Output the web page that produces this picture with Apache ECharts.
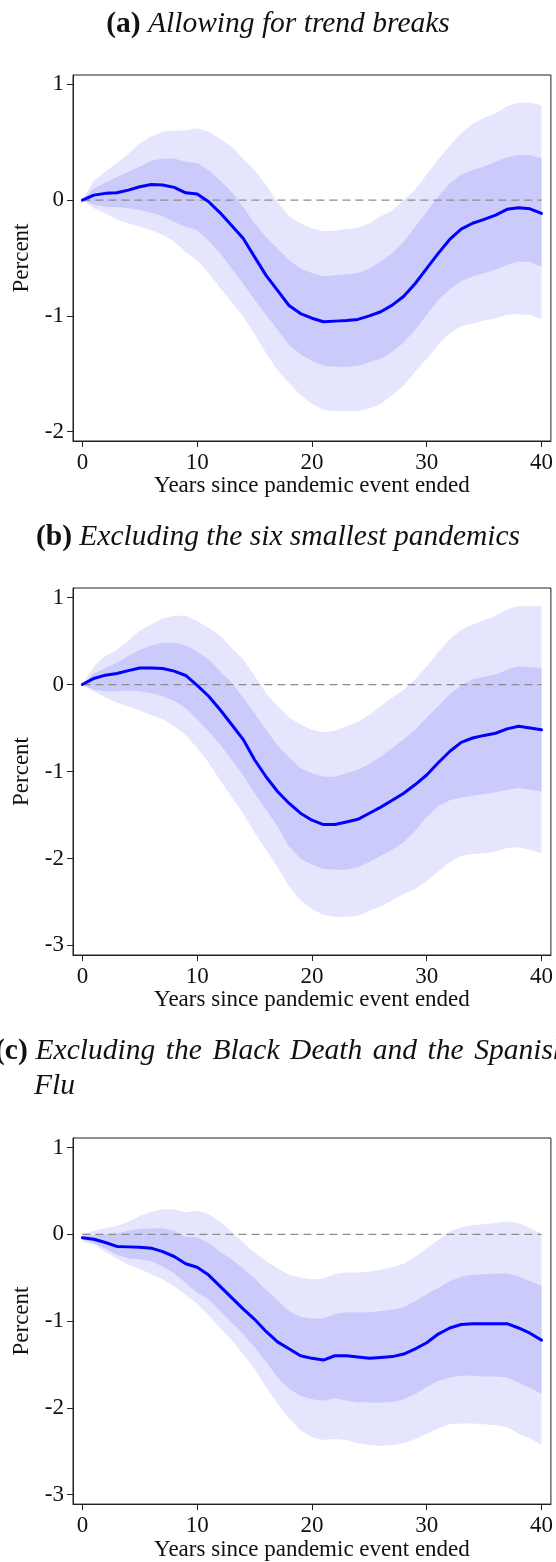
<!DOCTYPE html>
<html>
<head>
<meta charset="utf-8">
<script src="https://cdn.jsdelivr.net/npm/echarts@6/dist/echarts.min.js"></script>
<style>
  html, body { margin: 0; padding: 0; background: #fff; }
  #main { width: 556px; height: 1562px; }
</style>
</head>
<body>
<div id="main"></div>
<script>
// 横轴：疫情结束后的年数
var years = [];
for (var k = 0; k <= 40; k++) years.push(k);
var xTicks = [0, 10, 20, 30, 40];
var yTicksA = [-2, -1, 0, 1];
var yTicksBC = [-3, -2, -1, 0, 1];
var zeroLine = [[0, 0], [40, 0]];

// (a) Allowing for trend breaks
var aMid  = [0, 0.043, 0.058, 0.063, 0.086, 0.115, 0.135, 0.13, 0.11, 0.063, 0.052, -0.014, -0.11, -0.22, -0.33, -0.49, -0.65, -0.78, -0.91, -0.98, -1.02, -1.05, -1.045, -1.04, -1.03, -1.0, -0.964, -0.907, -0.83, -0.72, -0.59, -0.46, -0.34, -0.25, -0.20, -0.167, -0.13, -0.08, -0.066, -0.075, -0.115];
var aHi68 = [0, 0.10, 0.15, 0.20, 0.245, 0.29, 0.34, 0.36, 0.36, 0.33, 0.32, 0.26, 0.17, 0.07, -0.06, -0.2, -0.32, -0.42, -0.52, -0.59, -0.63, -0.66, -0.65, -0.64, -0.63, -0.59, -0.53, -0.46, -0.36, -0.23, -0.10, 0.03, 0.14, 0.22, 0.26, 0.29, 0.33, 0.37, 0.39, 0.39, 0.36];
var aLo68 = [0, -0.04, -0.06, -0.06, -0.07, -0.086, -0.11, -0.14, -0.19, -0.23, -0.26, -0.35, -0.46, -0.59, -0.72, -0.86, -0.99, -1.12, -1.25, -1.33, -1.39, -1.43, -1.44, -1.44, -1.43, -1.40, -1.37, -1.31, -1.23, -1.12, -0.99, -0.86, -0.77, -0.70, -0.66, -0.63, -0.60, -0.56, -0.53, -0.535, -0.575];
var aHi95 = [0, 0.17, 0.245, 0.32, 0.40, 0.49, 0.55, 0.59, 0.60, 0.60, 0.62, 0.59, 0.53, 0.46, 0.36, 0.26, 0.13, -0.02, -0.14, -0.20, -0.245, -0.27, -0.265, -0.25, -0.24, -0.20, -0.14, -0.09, 0, 0.09, 0.22, 0.35, 0.47, 0.58, 0.66, 0.71, 0.75, 0.81, 0.84, 0.84, 0.82];
var aLo95 = [0, -0.07, -0.115, -0.17, -0.2, -0.23, -0.26, -0.30, -0.36, -0.45, -0.52, -0.63, -0.76, -0.88, -1.0, -1.16, -1.32, -1.47, -1.58, -1.68, -1.76, -1.81, -1.82, -1.82, -1.82, -1.80, -1.76, -1.68, -1.60, -1.48, -1.37, -1.25, -1.15, -1.09, -1.065, -1.04, -1.02, -0.99, -0.985, -0.99, -1.03];

// (b) Excluding the six smallest pandemics
var bMid  = [0, 0.07, 0.108, 0.127, 0.16, 0.19, 0.19, 0.185, 0.154, 0.104, -0.01, -0.135, -0.29, -0.46, -0.63, -0.865, -1.06, -1.23, -1.365, -1.48, -1.56, -1.61, -1.61, -1.58, -1.55, -1.48, -1.41, -1.33, -1.25, -1.15, -1.04, -0.90, -0.77, -0.665, -0.615, -0.585, -0.56, -0.51, -0.48, -0.50, -0.52];
var bHi68 = [0, 0.13, 0.19, 0.25, 0.33, 0.40, 0.45, 0.48, 0.48, 0.45, 0.38, 0.29, 0.15, 0.02, -0.15, -0.33, -0.52, -0.70, -0.84, -0.96, -1.02, -1.06, -1.06, -1.02, -0.98, -0.91, -0.83, -0.73, -0.63, -0.52, -0.38, -0.25, -0.115, -0.01, 0.06, 0.09, 0.115, 0.17, 0.21, 0.20, 0.19];
var bLo68 = [0, -0.06, -0.08, -0.08, -0.07, -0.077, -0.10, -0.135, -0.19, -0.27, -0.40, -0.54, -0.69, -0.865, -1.04, -1.25, -1.44, -1.63, -1.865, -2.0, -2.07, -2.12, -2.13, -2.13, -2.10, -2.04, -1.97, -1.90, -1.81, -1.68, -1.52, -1.40, -1.33, -1.30, -1.28, -1.26, -1.24, -1.21, -1.19, -1.21, -1.23];
var bHi95 = [0, 0.21, 0.33, 0.40, 0.50, 0.62, 0.69, 0.76, 0.79, 0.79, 0.73, 0.65, 0.56, 0.42, 0.29, 0.10, -0.10, -0.25, -0.38, -0.46, -0.52, -0.55, -0.53, -0.48, -0.43, -0.35, -0.25, -0.15, -0.06, 0.06, 0.21, 0.37, 0.52, 0.63, 0.69, 0.74, 0.79, 0.865, 0.90, 0.90, 0.90];
var bLo95 = [0, -0.08, -0.15, -0.21, -0.25, -0.30, -0.35, -0.40, -0.48, -0.58, -0.73, -0.90, -1.10, -1.29, -1.48, -1.70, -1.90, -2.10, -2.32, -2.48, -2.58, -2.65, -2.67, -2.67, -2.66, -2.60, -2.55, -2.48, -2.41, -2.35, -2.26, -2.15, -2.04, -1.97, -1.95, -1.94, -1.92, -1.88, -1.87, -1.90, -1.94];

// (c) Excluding the Black Death and the Spanish Flu
var cMid  = [-0.04, -0.057, -0.095, -0.14, -0.145, -0.15, -0.16, -0.20, -0.256, -0.34, -0.38, -0.47, -0.60, -0.73, -0.86, -0.98, -1.12, -1.24, -1.32, -1.40, -1.43, -1.45, -1.40, -1.40, -1.415, -1.43, -1.42, -1.41, -1.38, -1.32, -1.25, -1.15, -1.08, -1.04, -1.03, -1.03, -1.03, -1.03, -1.08, -1.14, -1.22];
var cHi68 = [-0.02, -0.01, 0, 0.01, 0.04, 0.06, 0.07, 0.07, 0.04, -0.03, -0.035, -0.10, -0.20, -0.29, -0.39, -0.51, -0.64, -0.76, -0.885, -0.95, -0.97, -0.97, -0.92, -0.90, -0.90, -0.90, -0.885, -0.87, -0.84, -0.77, -0.69, -0.62, -0.54, -0.49, -0.465, -0.46, -0.455, -0.45, -0.485, -0.54, -0.59];
var cLo68 = [-0.06, -0.10, -0.16, -0.24, -0.275, -0.29, -0.31, -0.37, -0.45, -0.56, -0.675, -0.75, -0.885, -1.02, -1.15, -1.30, -1.47, -1.65, -1.78, -1.86, -1.90, -1.92, -1.89, -1.92, -1.935, -1.94, -1.94, -1.935, -1.90, -1.84, -1.76, -1.69, -1.65, -1.63, -1.63, -1.64, -1.64, -1.65, -1.71, -1.77, -1.84];
var cHi95 = [0, 0.04, 0.07, 0.095, 0.145, 0.21, 0.26, 0.29, 0.29, 0.25, 0.27, 0.23, 0.145, 0.03, -0.095, -0.21, -0.31, -0.39, -0.465, -0.50, -0.52, -0.51, -0.46, -0.44, -0.44, -0.43, -0.41, -0.38, -0.34, -0.26, -0.16, -0.065, 0.03, 0.08, 0.107, 0.115, 0.13, 0.15, 0.126, 0.07, 0.01];
var cLo95 = [-0.08, -0.12, -0.20, -0.28, -0.35, -0.40, -0.46, -0.52, -0.60, -0.70, -0.80, -0.93, -1.08, -1.22, -1.38, -1.55, -1.76, -1.95, -2.12, -2.26, -2.34, -2.37, -2.36, -2.37, -2.41, -2.43, -2.44, -2.43, -2.41, -2.36, -2.30, -2.24, -2.19, -2.18, -2.18, -2.19, -2.20, -2.22, -2.30, -2.35, -2.43];

var serif = 'Liberation Serif';
var axisColor = '#222';

var myChart = echarts.init(document.getElementById('main'), null, { renderer: 'canvas' });

// 置信带：用一个多边形画整条带
function bandSeries(idx, lo, hi, color) {
    return {
        type: 'custom',
        xAxisIndex: idx,
        yAxisIndex: idx,
        clip: true,
        silent: true,
        z: 1,
        data: years.map(function (x, i) { return [x, lo[i], hi[i]]; }),
        renderItem: function (params, api) {
            if (params.dataIndexInside !== 0) return null;
            var n = years.length;
            var pts = [];
            for (var i = 0; i < n; i++) pts.push(api.coord([api.value(0, i), api.value(2, i)]));
            for (var j = n - 1; j >= 0; j--) pts.push(api.coord([api.value(0, j), api.value(1, j)]));
            return { type: 'polygon', shape: { points: pts }, style: { fill: color } };
        }
    };
}

function pairs(arr) {
    return years.map(function (x, i) { return [x, arr[i]]; });
}

var tops = [75, 588, 1138];
var heights = [366, 367, 367];
var yRanges = [[-2.08, 1.08], [-3.11, 1.11], [-3.11, 1.11]];
var yTicks = [yTicksA, yTicksBC, yTicksBC];
var panels = [
    [aMid, aLo68, aHi68, aLo95, aHi95],
    [bMid, bLo68, bHi68, bLo95, bHi95],
    [cMid, cLo68, cHi68, cLo95, cHi95]
];

var grids = [], xAxes = [], yAxes = [], series = [];
for (var p = 0; p < 3; p++) {
    grids.push({ left: 73, right: 4, top: tops[p], height: heights[p], show: true, borderColor: axisColor, borderWidth: 1 });
    xAxes.push({
        gridIndex: p, type: 'value', min: -0.82, max: 40.82,
        axisLine: { show: true, onZero: false, lineStyle: { color: axisColor, width: 1 } },
        axisTick: { show: true, length: 6, customValues: xTicks, lineStyle: { color: axisColor } },
        axisLabel: { customValues: xTicks, fontFamily: serif, fontSize: 23, color: '#111', margin: 10 },
        splitLine: { show: false },
        name: 'Years since pandemic event ended', nameLocation: 'middle', nameGap: 33,
        nameTextStyle: { fontFamily: serif, fontSize: 23, color: '#111' }
    });
    yAxes.push({
        gridIndex: p, type: 'value', min: yRanges[p][0], max: yRanges[p][1],
        axisLine: { show: true, onZero: false, lineStyle: { color: axisColor, width: 1 } },
        axisTick: { show: true, length: 6, customValues: yTicks[p], lineStyle: { color: axisColor } },
        axisLabel: { customValues: yTicks[p], fontFamily: serif, fontSize: 23, color: '#111', margin: 9 },
        splitLine: { show: false },
        name: 'Percent', nameLocation: 'middle', nameGap: 37,
        nameTextStyle: { fontFamily: serif, fontSize: 23, color: '#111' }
    });
    var d = panels[p];
    series.push(bandSeries(p, d[3], d[4], '#e5e5fd'));
    series.push(bandSeries(p, d[1], d[2], '#cbcbfb'));
    series.push({
        type: 'line', xAxisIndex: p, yAxisIndex: p, data: zeroLine, symbol: 'none', silent: true, z: 3,
        lineStyle: { color: '#8c8c8c', width: 1.3, type: [8, 5] }
    });
    series.push({
        type: 'line', xAxisIndex: p, yAxisIndex: p, data: pairs(d[0]), symbol: 'none', silent: true, z: 4,
        lineStyle: { color: '#0000ff', width: 3, cap: 'round', join: 'round' }
    });
}

var tSize = 29.5;
var richT = {
    b: { fontFamily: serif, fontSize: tSize, fontWeight: 'bold', fontStyle: 'normal', color: '#111', lineHeight: 35 },
    i: { fontFamily: serif, fontSize: tSize, fontStyle: 'italic', fontWeight: 'normal', color: '#111', lineHeight: 35 },
    w: { fontFamily: serif, fontSize: tSize, fontStyle: 'italic', fontWeight: 'normal', color: '#111', lineHeight: 35, padding: [0, 1.6, 0, 1.6] }
};
var titleStyle = { fontFamily: serif, fontSize: tSize, lineHeight: 35, rich: richT };

// (c) 标题两端对齐，首行超出画面
var cWords = ['Excluding', 'the', 'Black', 'Death', 'and', 'the', 'Spanish'];
var cLine1 = cWords.map(function (w) { return '{w|' + w + '}'; }).join(' ');

var option = {
    animation: false,
    backgroundColor: '#fff',
    title: [
        { text: '{b|(a)} {i|Allowing for trend breaks}', left: 'center', top: 7, padding: 0, textStyle: titleStyle },
        { text: '{b|(b)} {i|Excluding the six smallest pandemics}', left: 'center', top: 520, padding: 0, textStyle: titleStyle },
        { text: '{b|(c)}', left: -5, top: 1034, padding: 0, textStyle: titleStyle },
        { text: cLine1 + '\n{i|Flu}', left: 34, top: 1034, padding: 0, textStyle: titleStyle }
    ],
    grid: grids,
    xAxis: xAxes,
    yAxis: yAxes,
    series: series
};
myChart.setOption(option);
</script>
</body>
</html>
